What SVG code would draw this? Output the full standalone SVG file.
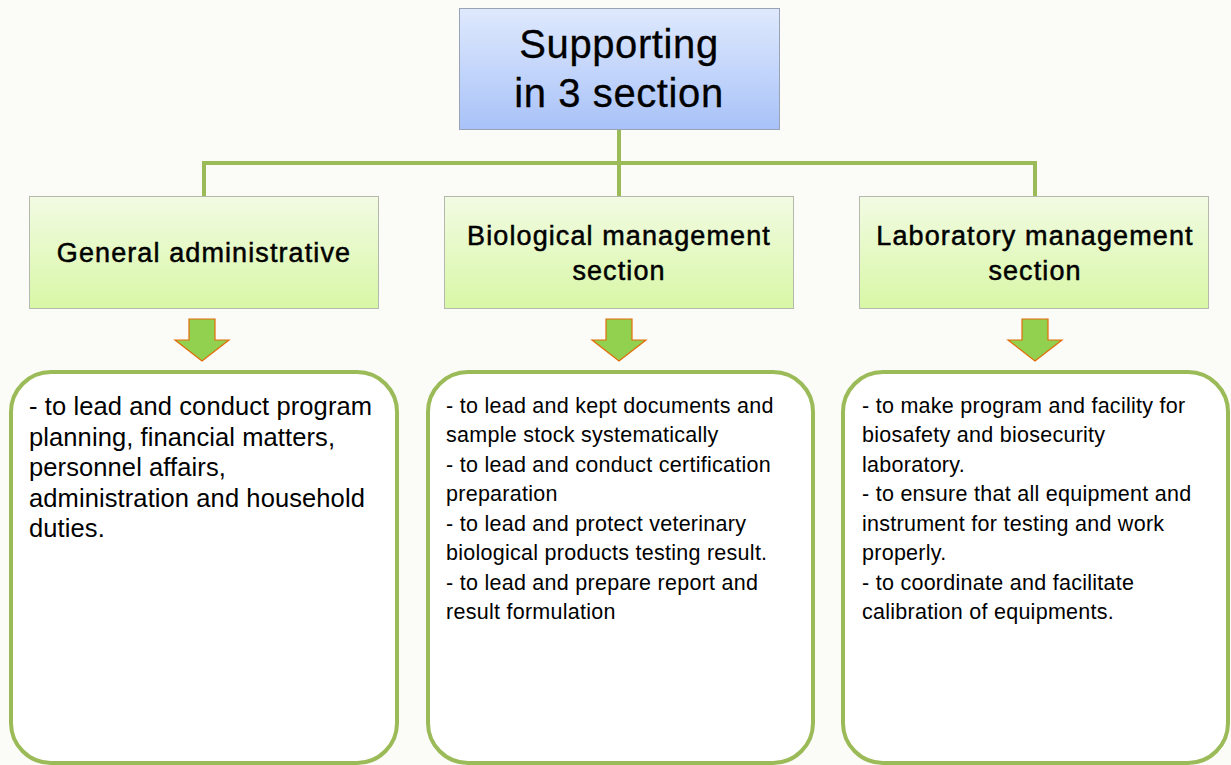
<svg xmlns="http://www.w3.org/2000/svg" width="1231" height="765" viewBox="0 0 1231 765">
<style>
text{font-family:"Liberation Sans",Arial,sans-serif;fill:#000}
.top{font-size:40px;text-anchor:middle;letter-spacing:0.6px;stroke:#000;stroke-width:0.3px}
.sec{font-size:27px;text-anchor:middle;letter-spacing:1.1px;stroke:#000;stroke-width:0.5px}
.big{font-size:25.5px;letter-spacing:0.1px}
.small{font-size:21.5px;letter-spacing:0.27px}
.conn{stroke:#9bbb59;stroke-width:4;fill:none}
.box{stroke:#9bbb59;stroke-width:4;fill:#fff}
.arrow{fill:#92d050;stroke:#e36c09;stroke-width:1.2}
</style>
<defs>
<linearGradient id="gb" x1="0" y1="0" x2="0" y2="1"><stop offset="0" stop-color="#dfe9fd"/><stop offset="1" stop-color="#a8c2f8"/></linearGradient>
<linearGradient id="gg" x1="0" y1="0" x2="0" y2="1"><stop offset="0" stop-color="#f2fbe3"/><stop offset="1" stop-color="#d8f7a6"/></linearGradient>
</defs>
<rect width="1231" height="765" fill="#fbfbf8"/>
<g id="connectors">
<path class="conn" d="M619 129V196M204 196V163H1035V196"/>
<polygon class="arrow" points="189,319 215,319 215,340 229,340 202,361 175,340 189,340"/>
<polygon class="arrow" points="606,319 632,319 632,340 646,340 619,361 592,340 606,340"/>
<polygon class="arrow" points="1022,319 1048,319 1048,340 1062,340 1035,361 1008,340 1022,340"/>
</g>
<g id="top">
<rect x="459.5" y="8.5" width="320" height="121" fill="url(#gb)" stroke="#9aa3b5"/>
<text class="top" x="619" y="58">Supporting</text>
<text class="top" x="619" y="107">in 3 section</text>
</g>
<g id="general">
<rect x="29.5" y="196.5" width="349" height="112" fill="url(#gg)" stroke="#b5b8ad"/>
<text class="sec" x="204" y="262">General administrative</text>
</g>
<g id="biological">
<rect x="444.5" y="196.5" width="349" height="112" fill="url(#gg)" stroke="#b5b8ad"/>
<text class="sec" x="619" y="245">Biological management</text>
<text class="sec" x="619" y="280">section</text>
</g>
<g id="laboratory">
<rect x="859.5" y="196.5" width="349" height="112" fill="url(#gg)" stroke="#b5b8ad"/>
<text class="sec" x="1035" y="245">Laboratory management</text>
<text class="sec" x="1035" y="280">section</text>
</g>
<g id="general-duties">
<rect class="box" x="11" y="372" width="386" height="391" rx="40"/>
<text class="big"><tspan x="29" y="415">- to lead and conduct program</tspan><tspan x="29" y="446">planning, financial matters,</tspan><tspan x="29" y="476">personnel affairs,</tspan><tspan x="29" y="507">administration and household</tspan><tspan x="29" y="537">duties.</tspan></text>
</g>
<g id="biological-duties">
<rect class="box" x="428" y="372" width="385" height="391" rx="40"/>
<text class="small"><tspan x="446" y="413">- to lead and kept documents and</tspan><tspan x="446" y="442">sample stock systematically</tspan><tspan x="446" y="472">- to lead and conduct certification</tspan><tspan x="446" y="501">preparation</tspan><tspan x="446" y="531">- to lead and protect veterinary</tspan><tspan x="446" y="560">biological products testing result.</tspan><tspan x="446" y="590">- to lead and prepare report and</tspan><tspan x="446" y="619">result formulation</tspan></text>
</g>
<g id="laboratory-duties">
<rect class="box" x="843" y="372" width="385" height="391" rx="40"/>
<text class="small"><tspan x="862" y="413">- to make program and facility for</tspan><tspan x="862" y="442">biosafety and biosecurity</tspan><tspan x="862" y="472">laboratory.</tspan><tspan x="862" y="501">- to ensure that all equipment and</tspan><tspan x="862" y="531">instrument for testing and work</tspan><tspan x="862" y="560">properly.</tspan><tspan x="862" y="590">- to coordinate and facilitate</tspan><tspan x="862" y="619">calibration of equipments.</tspan></text>
</g>
</svg>
